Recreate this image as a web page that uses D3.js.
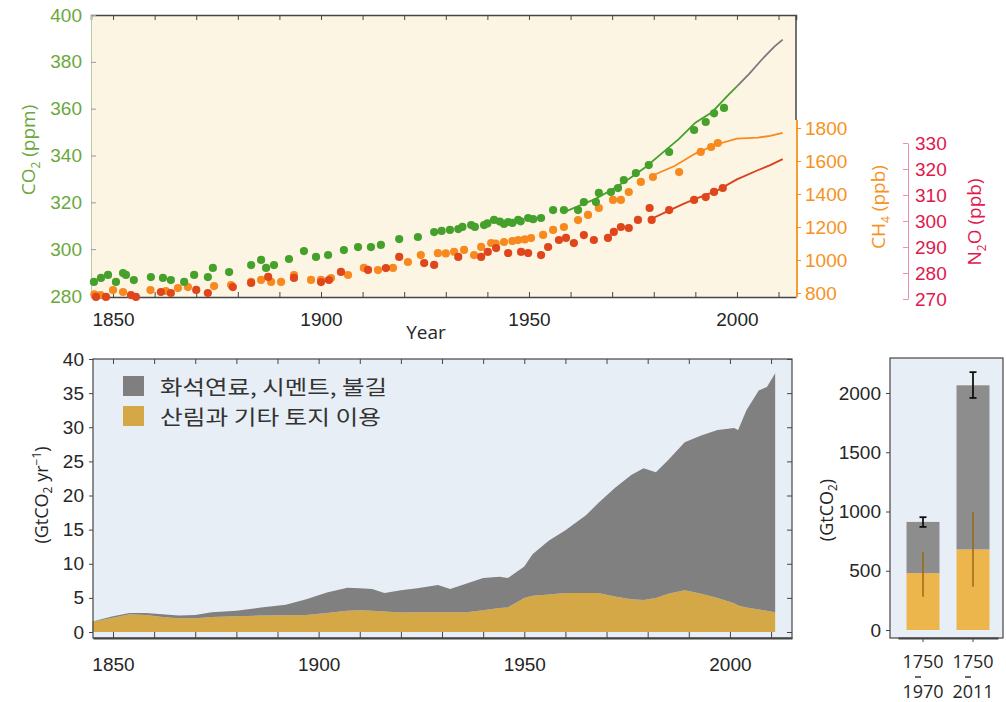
<!DOCTYPE html>
<html>
<head>
<meta charset="utf-8">
<script src="https://cdn.jsdelivr.net/npm/d3@7"></script>
<style>
  body { margin: 0; background: #fff; }
  svg { display: block; font-family: "Open Sans", "Noto Sans", sans-serif; }
</style>
</head>
<body>
<svg id="chart" width="1006" height="702"></svg>
<script>
// ---- top panel: concentrations ----
const co2IceYears = [1845.4, 1847.1, 1848.8, 1850.7, 1852.4, 1853.1, 1855, 1859.1, 1862, 1863.9, 1867.1, 1869.5, 1872.8, 1874, 1877.9,
  1883.2, 1885.6, 1886.8, 1888.7, 1892.3, 1895.9, 1898.8, 1901.7, 1905.5, 1908.9, 1912, 1914.4, 1918.8, 1923.3, 1927.2, 1929, 1931,
  1933, 1934, 1936.1, 1937, 1939.2, 1940, 1941.6, 1943, 1944, 1945, 1946, 1947.4, 1948, 1949.8, 1951, 1952.9, 1955.8, 1958.4, 1961.8,
  1963.2, 1966.1, 1966.8, 1969.7, 1971.4, 1972.8, 1975.7, 1978.8, 1983.7, 1989.7, 1992.5, 1994.5, 1996.9];
const co2IceVals = [286, 287.7, 289, 286, 289.8, 289, 286.8, 288.1, 287.7, 286.8, 286, 289, 288.1, 292, 290.2,
  293.2, 295.4, 292, 293.2, 295.8, 299.2, 296.7, 297.5, 299.6, 300.9, 300.9, 301.8, 304.3, 305.2, 307.3, 307.8, 308.2,
  308.6, 309.5, 310.3, 309.5, 310.3, 311, 312.5, 311.8, 310.8, 311.6, 311.2, 312.5, 311.9, 313.3, 312.8, 313.3, 316.7, 316.7, 316.7,
  320.1, 320.1, 324, 324.4, 326.1, 329.5, 332.5, 335.9, 341.5, 350.9, 354.3, 358, 360.3];

const ch4IceYears = [1845.5, 1847, 1850, 1852.4, 1859, 1862.7, 1865.6, 1868, 1874.3, 1878.4, 1883.2, 1885.6, 1888, 1890.4, 1893.5,
  1897.6, 1900, 1902.4, 1906.5, 1910.3, 1913.7, 1917.3, 1920.9, 1924, 1928.1, 1930, 1932, 1934.4, 1936.8, 1938.5, 1940.9, 1942,
  1944, 1946, 1947.4, 1949, 1950.5, 1953.4, 1955.8, 1958.4, 1961.8, 1964.2, 1966.8, 1970.2, 1972.1, 1974, 1976.9, 1979.8, 1986.1,
  1991.3, 1993.8, 1995.4];
const ch4IceVals = [792, 788, 818, 806, 818, 812, 830, 836, 842, 848, 867, 879, 867, 867, 909,
  879, 879, 891, 909, 952, 939, 952, 988, 1030, 1042, 1040, 1050, 1061, 1030, 1079, 1103, 1100,
  1109, 1115, 1121, 1125, 1133, 1152, 1182, 1200, 1242, 1273, 1315, 1364, 1364, 1412, 1473, 1503, 1533,
  1655, 1685, 1709];

const n2oIceYears = [1845.9, 1848.3, 1854.3, 1855.5, 1861.5, 1863.9, 1870, 1872.8, 1878.8, 1883.2, 1887.3, 1893.5, 1900, 1901.9,
  1904.8, 1911.3, 1915.6, 1918.8, 1924.8, 1927.2, 1933, 1938.5, 1940.1, 1942.1, 1945, 1948.1, 1949.8, 1952.9, 1954.6, 1957.2,
  1958.9, 1960.8, 1963.2, 1965.6, 1969, 1970.4, 1972.1, 1974, 1976.2, 1979, 1979.5, 1983.7, 1989.7, 1992.5, 1994.5, 1996.6];
const n2oIceVals = [270.8, 270.8, 271.5, 270.8, 272.7, 272.3, 273.5, 272.3, 274.6, 276.2, 278.5, 278.1, 276.5, 277.3,
  280.4, 281.2, 281.9, 286.2, 283.8, 283.1, 286.2, 286.2, 288.1, 289.6, 287.7, 288.1, 287.7, 286.9, 290, 292.7,
  293.5, 291.5, 294.6, 292.7, 293.5, 295.8, 297.7, 297.3, 300.4, 305, 300.4, 304.2, 308.1, 309.2, 311.2, 312.7];

// direct atmospheric measurements
const co2LineYears = [1958, 1962, 1966, 1970, 1974, 1978, 1982, 1986, 1990, 1994, 1998, 2000];
const co2LineVals = [315.5, 318.5, 321.5, 325.5, 330, 335, 341, 347, 354, 358.5, 366, 369.5];
const co2RecentYears = [2000, 2003, 2006, 2009, 2011];
const co2RecentVals = [369.5, 375, 381, 386.5, 389.5];
const ch4LineYears = [1980, 1985, 1990, 1995, 2000, 2005, 2008, 2011];
const ch4LineVals = [1515, 1570, 1645, 1700, 1735, 1742, 1752, 1770];
const n2oLineYears = [1979, 1983, 1987, 1990, 1995, 2000, 2005, 2008, 2011];
const n2oLineVals = [300.5, 303.5, 306.5, 308.5, 311.5, 316, 319.5, 321.5, 323.8];

const co2Ticks = [280, 300, 320, 340, 360, 380, 400];
const ch4Ticks = [800, 1000, 1200, 1400, 1600, 1800];
const n2oTicks = [270, 280, 290, 300, 310, 320, 330];
const yearLabels = [1850, 1900, 1950, 2000];

// ---- bottom left: annual emissions (GtCO2/yr) ----
const emisYears = [1845, 1850, 1854, 1858, 1862, 1866, 1870, 1874, 1880, 1886, 1892, 1897, 1902, 1907, 1910, 1913, 1916, 1920,
  1924, 1929, 1932, 1936, 1940, 1944, 1946, 1950, 1952, 1956, 1960, 1965, 1968, 1972, 1976, 1979, 1982, 1985, 1989, 1993,
  1997, 2001, 2002, 2004, 2007, 2009, 2011];
const landUse = [1.5, 2.1, 2.6, 2.5, 2.2, 2.0, 2.0, 2.2, 2.3, 2.4, 2.45, 2.5, 2.8, 3.1, 3.2, 3.1, 3.0, 2.85,
  2.9, 2.9, 2.9, 2.9, 3.2, 3.5, 3.6, 5.0, 5.3, 5.5, 5.7, 5.7, 5.7, 5.2, 4.8, 4.7, 5.0, 5.6, 6.1, 5.6,
  5.0, 4.2, 3.9, 3.6, 3.3, 3.1, 2.9];
const fossil = [0.05, 0.2, 0.2, 0.3, 0.4, 0.4, 0.5, 0.7, 0.8, 1.2, 1.55, 2.3, 3.0, 3.4, 3.2, 3.2, 2.7, 3.25,
  3.5, 4.0, 3.4, 4.2, 4.7, 4.6, 4.3, 4.6, 6.1, 7.9, 9.2, 11.4, 13.2, 15.9, 18.2, 19.3, 18.4, 19.6, 21.7, 23.2,
  24.6, 25.7, 25.7, 28.9, 32.1, 32.8, 35.0];
const emisTicks = [0, 5, 10, 15, 20, 25, 30, 35, 40];
const legendLabels = ["화석연료, 시멘트, 불길", "산림과 기타 토지 이용"];

// ---- bottom right: cumulative emissions (GtCO2) ----
const periods = ["1750–1970", "1750–2011"];
const cumLand = [480, 680];
const cumFossil = [432, 1385];
const cumTotalErr = [[870, 952], [1958, 2176]];
const cumLandErr = [[280, 658], [364, 995]];
const cumTicks = [0, 500, 1000, 1500, 2000];

const GREEN = "#46a02c", ORANGE = "#f7891f", RED = "#e0461c";
const GREEN_TXT = "#6aa83c", ORANGE_TXT = "#f6921e", RED_TXT = "#e0184d";
const FRAME = "#454545", TXT = "#262626";
const FS = "19px";
const fmt = d3.format("d");

const svg = d3.select("#chart");

// =================== TOP PANEL ===================
const xTop = d3.scaleLinear().domain([1844.7, 2014.2]).range([91, 796]);
const yCO2 = d3.scaleLinear().domain([280, 400]).range([296, 15]);
const yCH4 = d3.scaleLinear().domain([800, 1800]).range([293, 128]);
const yN2O = d3.scaleLinear().domain([270, 330]).range([299, 143]);

const topG = svg.append("g");
topG.append("rect")
  .attr("x", 91).attr("y", 15).attr("width", 705).attr("height", 282)
  .attr("fill", "#fdf5e4");

const decadesTop = d3.range(1850, 2011, 10);

// top border
topG.append("g").attr("transform", "translate(0,15)")
  .call(d3.axisTop(xTop).tickValues(decadesTop).tickSize(-5).tickFormat(""))
  .call(g => g.select(".domain").attr("stroke", FRAME).attr("stroke-width", 1.5))
  .call(g => g.selectAll(".tick line").attr("stroke", FRAME));

// bottom axis
topG.append("g").attr("transform", "translate(0,297)")
  .call(d3.axisBottom(xTop).tickValues(decadesTop).tickSizeInner(-5).tickSizeOuter(0).tickPadding(16)
    .tickFormat(d => yearLabels.includes(d) ? fmt(d) : ""))
  .call(g => g.select(".domain").attr("stroke", FRAME).attr("stroke-width", 1.5))
  .call(g => g.selectAll(".tick line").attr("stroke", FRAME))
  .call(g => g.selectAll("text").attr("fill", TXT).style("font-size", FS));

topG.append("text").attr("x", 426).attr("y", 339).attr("text-anchor", "middle")
  .attr("fill", TXT).style("font-size", FS).text("Year");

// left CO2 axis
topG.append("g").attr("transform", "translate(91,0)")
  .call(d3.axisLeft(yCO2).tickValues(co2Ticks).tickFormat(fmt).tickSizeInner(-5).tickSizeOuter(0).tickPadding(9))
  .call(g => g.select(".domain").attr("stroke", "#b9c9a4"))
  .call(g => g.selectAll(".tick line").attr("stroke", "#999"))
  .call(g => g.selectAll("text").attr("fill", GREEN_TXT).style("font-size", FS));

// right frame and CH4 axis
topG.append("line").attr("x1", 796).attr("x2", 796).attr("y1", 15).attr("y2", 120)
  .attr("stroke", FRAME).attr("stroke-width", 1.5);
topG.append("line").attr("x1", 797).attr("x2", 797).attr("y1", 120).attr("y2", 297)
  .attr("stroke", ORANGE_TXT).attr("stroke-width", 1.8);
topG.append("g").attr("transform", "translate(797,0)")
  .call(d3.axisRight(yCH4).tickValues(ch4Ticks).tickFormat(fmt).tickSizeInner(4).tickSizeOuter(0).tickPadding(4))
  .call(g => g.select(".domain").remove())
  .call(g => g.selectAll(".tick line").attr("stroke", ORANGE_TXT))
  .call(g => g.selectAll("text").attr("fill", ORANGE_TXT).style("font-size", FS));

// N2O axis
topG.append("g").attr("transform", "translate(908,0)")
  .call(d3.axisRight(yN2O).tickValues(n2oTicks).tickFormat(fmt).tickSizeInner(-5).tickSizeOuter(0).tickPadding(7))
  .call(g => g.select(".domain").attr("stroke", "#ee8fab"))
  .call(g => g.selectAll(".tick line").attr("stroke", "#ee8fab"))
  .call(g => g.selectAll("text").attr("fill", RED_TXT).style("font-size", FS));

// rotated axis titles
function subTitle(g, x, y, color, a, sub, b) {
  const t = g.append("text").attr("transform", `translate(${x},${y}) rotate(-90)`)
    .attr("text-anchor", "middle").attr("fill", color).style("font-size", FS);
  t.append("tspan").text(a);
  t.append("tspan").attr("dy", 5).style("font-size", "12px").text(sub);
  t.append("tspan").attr("dy", -5).text(b);
  return t;
}
subTitle(topG, 35, 150, GREEN_TXT, "CO", "2", " (ppm)");
subTitle(topG, 885, 207, ORANGE_TXT, "CH", "4", " (ppb)");
subTitle(topG, 981, 222, RED_TXT, "N", "2", "O (ppb)");

// lines
const lineOf = (ys) => d3.line().x(d => xTop(d[0])).y(d => ys(d[1]));
const drawLine = (years, vals, ys, color) => topG.append("path")
  .datum(d3.zip(years, vals))
  .attr("fill", "none").attr("stroke", color).attr("stroke-width", 1.8)
  .attr("d", lineOf(ys));
drawLine(ch4LineYears, ch4LineVals, yCH4, ORANGE);
drawLine(n2oLineYears, n2oLineVals, yN2O, "#d9401c");
drawLine(co2LineYears, co2LineVals, yCO2, GREEN);
drawLine(co2RecentYears, co2RecentVals, yCO2, "#7a7a7a");

// dots
const drawDots = (years, vals, ys, color) => topG.append("g")
  .selectAll("circle").data(d3.zip(years, vals)).join("circle")
  .attr("cx", d => xTop(d[0])).attr("cy", d => ys(d[1]))
  .attr("r", 4.1).attr("fill", color);
drawDots(ch4IceYears, ch4IceVals, yCH4, ORANGE);
drawDots(n2oIceYears, n2oIceVals, yN2O, RED);
drawDots(co2IceYears, co2IceVals, yCO2, GREEN);

// =================== BOTTOM LEFT: annual emissions ===================
const xBot = d3.scaleLinear().domain([1845.14, 2015.09]).range([93, 792]);
const yEmis = d3.scaleLinear().domain([0, 40]).range([632, 359]);

const bl = svg.append("g");
bl.append("rect").attr("x", 93).attr("y", 359).attr("width", 699).attr("height", 279)
  .attr("fill", "#e8eef6");

const emisRows = emisYears.map((y, i) => ({ year: y, land: landUse[i], fossil: fossil[i] }));
const stacked = d3.stack().keys(["land", "fossil"])(emisRows);
const areaColors = { land: "#d4a847", fossil: "#808080" };
const area = d3.area().x(d => xBot(d.data.year)).y0(d => yEmis(d[0])).y1(d => yEmis(d[1]));
bl.selectAll("path.layer").data(stacked).join("path")
  .attr("class", "layer")
  .attr("fill", d => areaColors[d.key])
  .attr("d", area);

const decadesBot = d3.range(1850, 2011, 10);
// frame
bl.append("rect").attr("x", 93).attr("y", 359).attr("width", 699).attr("height", 279)
  .attr("fill", "none").attr("stroke", FRAME).attr("stroke-width", 1.2);
bl.append("g").attr("transform", "translate(0,359)")
  .call(d3.axisTop(xBot).tickValues(decadesBot).tickSize(-5).tickFormat(""))
  .call(g => g.select(".domain").remove())
  .call(g => g.selectAll(".tick line").attr("stroke", FRAME));
bl.append("g").attr("transform", "translate(0,638)")
  .call(d3.axisBottom(xBot).tickValues(decadesBot).tickSizeInner(-6).tickSizeOuter(0).tickPadding(20)
    .tickFormat(d => yearLabels.includes(d) ? fmt(d) : ""))
  .call(g => g.select(".domain").attr("stroke", FRAME).attr("stroke-width", 2))
  .call(g => g.selectAll(".tick line").attr("stroke", FRAME))
  .call(g => g.selectAll("text").attr("fill", TXT).style("font-size", FS));
bl.append("g").attr("transform", "translate(93,0)")
  .call(d3.axisLeft(yEmis).tickValues(emisTicks).tickFormat(fmt).tickSizeInner(4).tickSizeOuter(0).tickPadding(5))
  .call(g => g.select(".domain").remove())
  .call(g => g.selectAll(".tick line").attr("stroke", FRAME))
  .call(g => g.selectAll("text").attr("fill", TXT).style("font-size", FS));
bl.append("g").attr("transform", "translate(792,0)")
  .call(d3.axisRight(yEmis).tickValues(emisTicks).tickSize(-5).tickFormat(""))
  .call(g => g.select(".domain").remove())
  .call(g => g.selectAll(".tick line").attr("stroke", FRAME));

{
  const t = bl.append("text").attr("transform", "translate(48,495) rotate(-90)")
    .attr("text-anchor", "middle").attr("fill", TXT).style("font-size", "18px");
  t.append("tspan").text("(GtCO");
  t.append("tspan").attr("dy", 4).style("font-size", "12px").text("2");
  t.append("tspan").attr("dy", -4).text(" yr");
  t.append("tspan").attr("dy", -7).style("font-size", "12px").text("−1");
  t.append("tspan").attr("dy", 7).text(")");
}

// legend
const legendColors = ["#7f7f7f", "#d4a847"];
const legendWidths = [227, 221];
const legend = bl.append("g").selectAll("g").data(legendLabels).join("g")
  .attr("transform", (d, i) => `translate(123,${376 + i * 30})`);
legend.append("rect").attr("width", 21).attr("height", 20).attr("fill", (d, i) => legendColors[i]);
legend.append("text").attr("x", 37).attr("y", 19)
  .attr("textLength", (d, i) => legendWidths[i]).attr("lengthAdjust", "spacingAndGlyphs")
  .attr("fill", "#333").style("font-family", "'Noto Sans CJK KR', sans-serif").style("font-size", "20.5px")
  .text(d => d);

// =================== BOTTOM RIGHT: cumulative emissions ===================
const xBar = d3.scaleBand().domain(periods).range([898, 998]).paddingInner(0.34).paddingOuter(0.17);
const yCum = d3.scaleLinear().domain([0, 2000]).range([630, 393]);

const br = svg.append("g");
br.append("rect").attr("x", 890).attr("y", 358).attr("width", 113).attr("height", 280)
  .attr("fill", "#e8eef6").attr("stroke", FRAME).attr("stroke-width", 1.2);

const cumRows = periods.map((p, i) => ({ period: p, land: cumLand[i], fossil: cumFossil[i] }));
const cumStack = d3.stack().keys(["land", "fossil"])(cumRows);
const barColors = { land: "#ecb64c", fossil: "#8d8d8d" };
br.selectAll("g.layer").data(cumStack).join("g")
  .attr("class", "layer").attr("fill", d => barColors[d.key])
  .selectAll("rect").data(d => d).join("rect")
  .attr("x", d => xBar(d.data.period))
  .attr("width", xBar.bandwidth())
  .attr("y", d => yCum(d[1]))
  .attr("height", d => yCum(d[0]) - yCum(d[1]));

const cx = d => xBar(d) + xBar.bandwidth() / 2;

// land-use uncertainty
br.selectAll("line.landerr").data(periods).join("line")
  .attr("class", "landerr")
  .attr("x1", cx).attr("x2", cx)
  .attr("y1", (d, i) => yCum(cumLandErr[i][0])).attr("y2", (d, i) => yCum(cumLandErr[i][1]))
  .attr("stroke", "#9a6a10").attr("stroke-width", 1.5);

// total uncertainty
const errG = br.selectAll("g.toterr").data(periods).join("g").attr("class", "toterr")
  .attr("stroke", "#111").attr("stroke-width", 1.8);
errG.append("line")
  .attr("x1", cx).attr("x2", cx)
  .attr("y1", (d, i) => yCum(cumTotalErr[i][0])).attr("y2", (d, i) => yCum(cumTotalErr[i][1]));
[0, 1].forEach(k => errG.append("line")
  .attr("x1", d => cx(d) - 3.5).attr("x2", d => cx(d) + 3.5)
  .attr("y1", (d, i) => yCum(cumTotalErr[i][k])).attr("y2", (d, i) => yCum(cumTotalErr[i][k])));

br.append("g").attr("transform", "translate(890,0)")
  .call(d3.axisLeft(yCum).tickValues(cumTicks).tickFormat(fmt).tickSizeInner(4).tickSizeOuter(0).tickPadding(5))
  .call(g => g.select(".domain").remove())
  .call(g => g.selectAll(".tick line").attr("stroke", FRAME))
  .call(g => g.selectAll("text").attr("fill", TXT).style("font-size", FS));
br.append("g").attr("transform", "translate(0,638)")
  .call(d3.axisBottom(xBar).tickSizeInner(4).tickSizeOuter(0).tickFormat(""))
  .call(g => g.select(".domain").attr("stroke", FRAME).attr("stroke-width", 2))
  .call(g => g.selectAll(".tick line").attr("stroke", FRAME));

// period labels: start year, a short dash, end year
const barLabels = br.selectAll("text.period").data(periods).join("text")
  .attr("class", "period")
  .attr("text-anchor", "middle").attr("fill", TXT).style("font-size", "18px");
barLabels.append("tspan").attr("x", cx).attr("y", 668)
  .text(d => d.split("–")[0]);
barLabels.append("tspan").attr("x", cx).attr("y", 698)
  .text(d => d.split("–")[1]);
br.selectAll("line.dash").data(periods).join("line")
  .attr("class", "dash")
  .attr("x1", d => cx(d) - 8).attr("x2", d => cx(d) - 2)
  .attr("y1", 677).attr("y2", 677)
  .attr("stroke", TXT).attr("stroke-width", 1.4);

{
  const t = br.append("text").attr("transform", "translate(833,510) rotate(-90)")
    .attr("text-anchor", "middle").attr("fill", TXT).style("font-size", "18px");
  t.append("tspan").text("(GtCO");
  t.append("tspan").attr("dy", 4).style("font-size", "12px").text("2");
  t.append("tspan").attr("dy", -4).text(")");
}
</script>
</body>
</html>
